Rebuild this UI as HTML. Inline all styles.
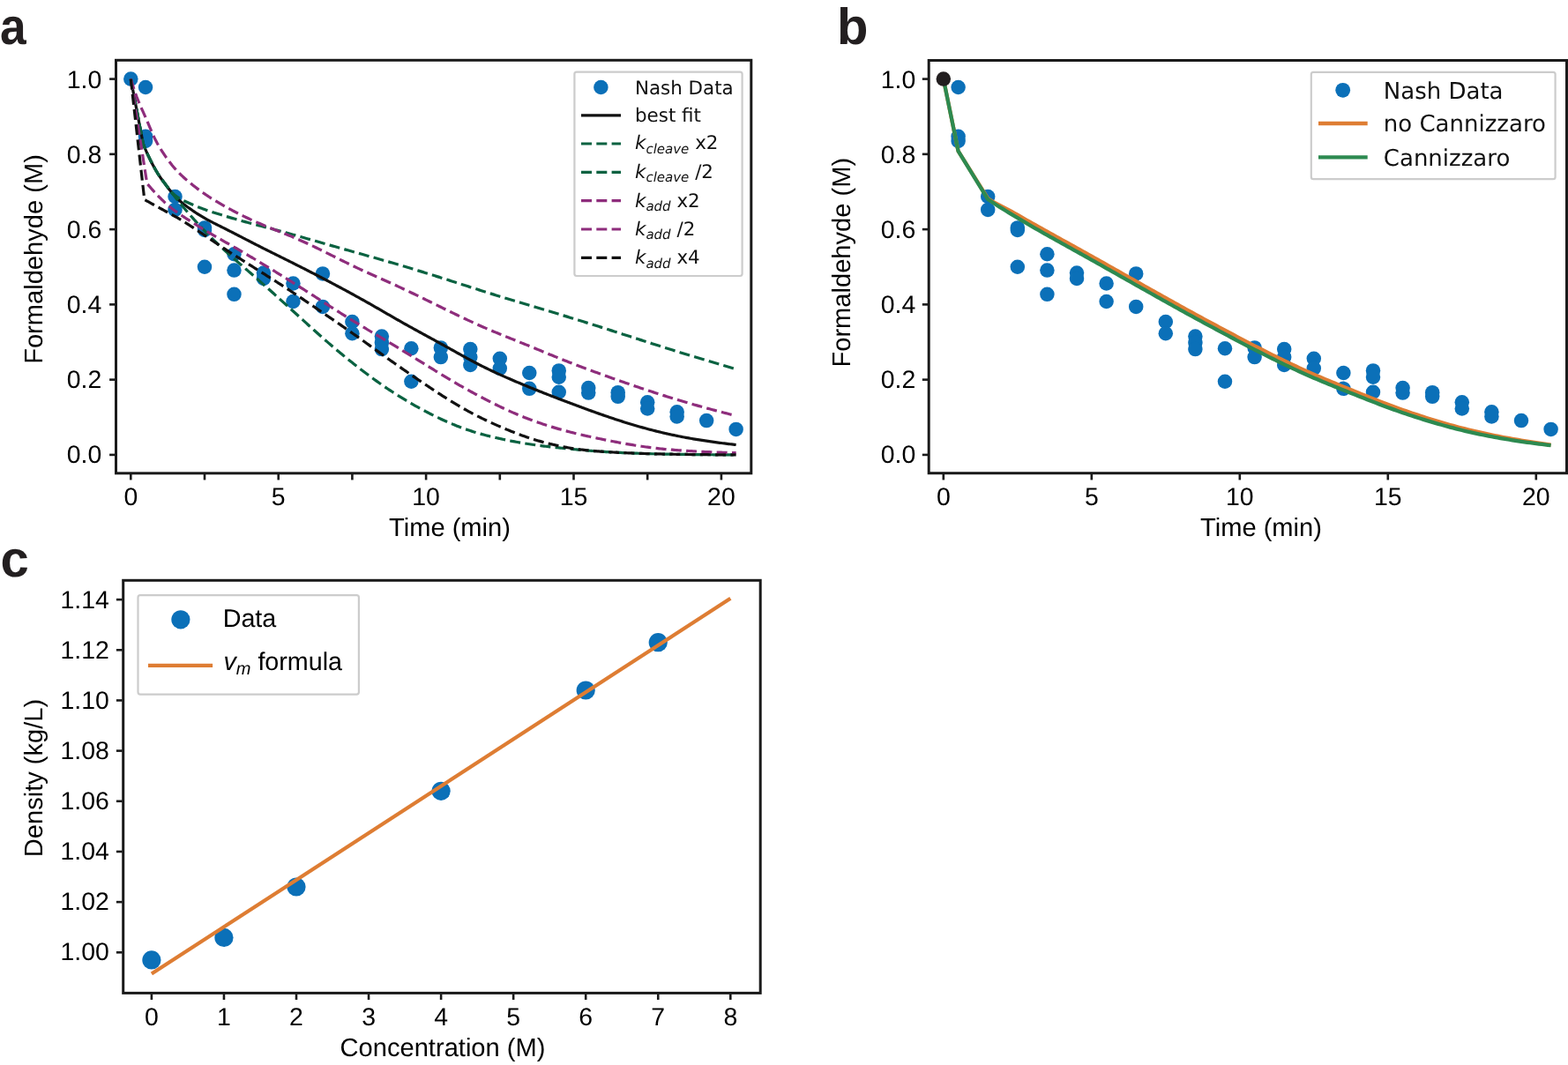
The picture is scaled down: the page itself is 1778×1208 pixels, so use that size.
<!DOCTYPE html><html><head><meta charset="utf-8"><title>Formaldehyde figure</title><style>html,body{margin:0;padding:0;background:#fff;}svg{display:block}</style></head><body>
<svg width="1778" height="1208" viewBox="0 0 1778 1208" text-rendering="geometricPrecision">
<rect width="1778" height="1208" fill="#fff"/>
<text transform="translate(0.1,49.8) scale(0.92,1)" font-size="58" font-weight="bold" font-family='"Liberation Sans", Arial, sans-serif' fill="#231f20">a</text>
<text transform="translate(949,50.2)" font-size="58" font-weight="bold" font-family='"Liberation Sans", Arial, sans-serif' fill="#231f20">b</text>
<text transform="translate(0.6,653.6)" font-size="58" font-weight="bold" font-family='"Liberation Sans", Arial, sans-serif' fill="#231f20">c</text>
<line x1="148.3" y1="538" x2="148.3" y2="544.4" stroke="#1a1a1a" stroke-width="2.6"/>
<text x="148.3" y="573.3" font-size="28.4" text-anchor="middle" font-family='"Liberation Sans", Arial, sans-serif' fill="#000">0</text>
<line x1="232" y1="538" x2="232" y2="544.4" stroke="#1a1a1a" stroke-width="2.6"/>
<line x1="315.7" y1="538" x2="315.7" y2="544.4" stroke="#1a1a1a" stroke-width="2.6"/>
<text x="315.7" y="573.3" font-size="28.4" text-anchor="middle" font-family='"Liberation Sans", Arial, sans-serif' fill="#000">5</text>
<line x1="399.4" y1="538" x2="399.4" y2="544.4" stroke="#1a1a1a" stroke-width="2.6"/>
<line x1="483.1" y1="538" x2="483.1" y2="544.4" stroke="#1a1a1a" stroke-width="2.6"/>
<text x="483.1" y="573.3" font-size="28.4" text-anchor="middle" font-family='"Liberation Sans", Arial, sans-serif' fill="#000">10</text>
<line x1="566.8" y1="538" x2="566.8" y2="544.4" stroke="#1a1a1a" stroke-width="2.6"/>
<line x1="650.5" y1="538" x2="650.5" y2="544.4" stroke="#1a1a1a" stroke-width="2.6"/>
<text x="650.5" y="573.3" font-size="28.4" text-anchor="middle" font-family='"Liberation Sans", Arial, sans-serif' fill="#000">15</text>
<line x1="734.2" y1="538" x2="734.2" y2="544.4" stroke="#1a1a1a" stroke-width="2.6"/>
<line x1="817.9" y1="538" x2="817.9" y2="544.4" stroke="#1a1a1a" stroke-width="2.6"/>
<text x="817.9" y="573.3" font-size="28.4" text-anchor="middle" font-family='"Liberation Sans", Arial, sans-serif' fill="#000">20</text>
<line x1="124.1" y1="515.9" x2="130.5" y2="515.9" stroke="#1a1a1a" stroke-width="2.6"/>
<text x="115.3" y="524.9" font-size="28.4" text-anchor="end" font-family='"Liberation Sans", Arial, sans-serif' fill="#000">0.0</text>
<line x1="124.1" y1="430.64" x2="130.5" y2="430.64" stroke="#1a1a1a" stroke-width="2.6"/>
<text x="115.3" y="439.92" font-size="28.4" text-anchor="end" font-family='"Liberation Sans", Arial, sans-serif' fill="#000">0.2</text>
<line x1="124.1" y1="345.38" x2="130.5" y2="345.38" stroke="#1a1a1a" stroke-width="2.6"/>
<text x="115.3" y="354.94" font-size="28.4" text-anchor="end" font-family='"Liberation Sans", Arial, sans-serif' fill="#000">0.4</text>
<line x1="124.1" y1="260.12" x2="130.5" y2="260.12" stroke="#1a1a1a" stroke-width="2.6"/>
<text x="115.3" y="269.96" font-size="28.4" text-anchor="end" font-family='"Liberation Sans", Arial, sans-serif' fill="#000">0.6</text>
<line x1="124.1" y1="174.86" x2="130.5" y2="174.86" stroke="#1a1a1a" stroke-width="2.6"/>
<text x="115.3" y="184.98" font-size="28.4" text-anchor="end" font-family='"Liberation Sans", Arial, sans-serif' fill="#000">0.8</text>
<line x1="124.1" y1="89.6" x2="130.5" y2="89.6" stroke="#1a1a1a" stroke-width="2.6"/>
<text x="115.3" y="100" font-size="28.4" text-anchor="end" font-family='"Liberation Sans", Arial, sans-serif' fill="#000">1.0</text>
<circle cx="148.3" cy="89.6" r="8.25" fill="#0b70b8"/>
<circle cx="165.04" cy="98.98" r="8.25" fill="#0b70b8"/>
<circle cx="165.04" cy="154.82" r="8.25" fill="#0b70b8"/>
<circle cx="165.04" cy="159.94" r="8.25" fill="#0b70b8"/>
<circle cx="198.52" cy="223.03" r="8.25" fill="#0b70b8"/>
<circle cx="198.52" cy="237.95" r="8.25" fill="#0b70b8"/>
<circle cx="232" cy="258.41" r="8.25" fill="#0b70b8"/>
<circle cx="232" cy="260.97" r="8.25" fill="#0b70b8"/>
<circle cx="232" cy="302.75" r="8.25" fill="#0b70b8"/>
<circle cx="265.48" cy="288.26" r="8.25" fill="#0b70b8"/>
<circle cx="265.48" cy="306.59" r="8.25" fill="#0b70b8"/>
<circle cx="265.48" cy="333.87" r="8.25" fill="#0b70b8"/>
<circle cx="298.96" cy="309.57" r="8.25" fill="#0b70b8"/>
<circle cx="298.96" cy="315.97" r="8.25" fill="#0b70b8"/>
<circle cx="332.44" cy="321.51" r="8.25" fill="#0b70b8"/>
<circle cx="332.44" cy="341.97" r="8.25" fill="#0b70b8"/>
<circle cx="365.92" cy="310.42" r="8.25" fill="#0b70b8"/>
<circle cx="365.92" cy="347.94" r="8.25" fill="#0b70b8"/>
<circle cx="399.4" cy="364.99" r="8.25" fill="#0b70b8"/>
<circle cx="399.4" cy="378.21" r="8.25" fill="#0b70b8"/>
<circle cx="432.88" cy="381.62" r="8.25" fill="#0b70b8"/>
<circle cx="432.88" cy="388.86" r="8.25" fill="#0b70b8"/>
<circle cx="432.88" cy="396.11" r="8.25" fill="#0b70b8"/>
<circle cx="466.36" cy="395.26" r="8.25" fill="#0b70b8"/>
<circle cx="466.36" cy="432.77" r="8.25" fill="#0b70b8"/>
<circle cx="499.84" cy="394.4" r="8.25" fill="#0b70b8"/>
<circle cx="499.84" cy="405.06" r="8.25" fill="#0b70b8"/>
<circle cx="533.32" cy="396.11" r="8.25" fill="#0b70b8"/>
<circle cx="533.32" cy="405.06" r="8.25" fill="#0b70b8"/>
<circle cx="533.32" cy="414.01" r="8.25" fill="#0b70b8"/>
<circle cx="566.8" cy="406.77" r="8.25" fill="#0b70b8"/>
<circle cx="566.8" cy="417.85" r="8.25" fill="#0b70b8"/>
<circle cx="600.28" cy="422.97" r="8.25" fill="#0b70b8"/>
<circle cx="600.28" cy="440.87" r="8.25" fill="#0b70b8"/>
<circle cx="633.76" cy="420.41" r="8.25" fill="#0b70b8"/>
<circle cx="633.76" cy="427.66" r="8.25" fill="#0b70b8"/>
<circle cx="633.76" cy="444.71" r="8.25" fill="#0b70b8"/>
<circle cx="667.24" cy="440.02" r="8.25" fill="#0b70b8"/>
<circle cx="667.24" cy="445.56" r="8.25" fill="#0b70b8"/>
<circle cx="700.72" cy="445.13" r="8.25" fill="#0b70b8"/>
<circle cx="700.72" cy="449.82" r="8.25" fill="#0b70b8"/>
<circle cx="734.2" cy="456.22" r="8.25" fill="#0b70b8"/>
<circle cx="734.2" cy="463.47" r="8.25" fill="#0b70b8"/>
<circle cx="767.68" cy="467.3" r="8.25" fill="#0b70b8"/>
<circle cx="767.68" cy="472.42" r="8.25" fill="#0b70b8"/>
<circle cx="801.16" cy="477.11" r="8.25" fill="#0b70b8"/>
<circle cx="834.64" cy="486.91" r="8.25" fill="#0b70b8"/>
<polyline points="148.3,89.6 162.36,163.35 163.37,165.79 165.04,169.75 166.71,173.56 168.39,177.2 170.06,180.65 171.74,183.96 173.41,187.17 175.08,190.26 176.76,193.23 178.43,196.06 180.11,198.73 181.78,201.23 183.45,203.58 185.13,205.81 186.8,208 188.48,210.2 190.15,212.46 191.82,214.72 193.5,216.84 195.17,218.86 196.85,220.77 198.52,222.59 200.19,224.31 201.87,225.95 203.54,227.5 205.22,228.98 206.89,230.39 208.56,231.74 210.24,233.02 211.91,234.26 213.59,235.45 215.26,236.59 216.93,237.82 218.61,239.01 220.28,240.17 221.96,241.29 223.63,242.38 225.3,243.44 226.98,244.47 228.65,245.47 230.33,246.46 232,247.42 233.67,248.35 235.35,249.28 237.02,250.17 238.7,251.07 240.37,251.94 242.04,252.8 243.72,253.66 245.39,254.5 247.07,255.35 248.74,256.18 250.41,257.02 252.09,257.86 253.76,258.69 255.44,259.53 257.11,260.38 258.78,261.22 260.46,262.07 262.13,262.92 263.81,263.77 265.48,264.63 267.15,265.49 268.83,266.35 270.5,267.22 272.18,268.09 273.85,268.95 275.52,269.82 277.2,270.69 278.87,271.56 280.55,272.43 282.22,273.29 283.89,274.16 285.57,275.02 287.24,275.88 288.92,276.73 290.59,277.59 292.26,278.44 293.94,279.29 295.61,280.13 297.29,280.98 298.96,281.82 300.63,282.66 302.31,283.49 303.98,284.33 305.66,285.17 307.33,286 309,286.84 310.68,287.67 312.35,288.5 314.03,289.34 315.7,290.17 317.37,291 319.05,291.84 320.72,292.67 322.4,293.51 324.07,294.34 325.74,295.18 327.42,296.02 329.09,296.85 330.77,297.69 332.44,298.53 334.11,299.37 335.79,300.21 337.46,301.06 339.14,301.9 340.81,302.75 342.48,303.59 344.16,304.44 345.83,305.29 347.51,306.15 349.18,307 350.85,307.85 352.53,308.71 354.2,309.57 355.88,310.43 357.55,311.29 359.22,312.15 360.9,313.02 362.57,313.89 364.25,314.76 365.92,315.63 367.59,316.51 369.27,317.38 370.94,318.26 372.62,319.14 374.29,320.02 375.96,320.91 377.64,321.8 379.31,322.69 380.99,323.58 382.66,324.47 384.33,325.37 386.01,326.26 387.68,327.16 389.36,328.06 391.03,328.97 392.7,329.88 394.38,330.78 396.05,331.69 397.73,332.61 399.4,333.52 401.07,334.44 402.75,335.36 404.42,336.28 406.1,337.21 407.77,338.14 409.44,339.07 411.12,340 412.79,340.93 414.47,341.87 416.14,342.82 417.81,343.76 419.49,344.71 421.16,345.66 422.84,346.62 424.51,347.57 426.18,348.53 427.86,349.49 429.53,350.46 431.21,351.42 432.88,352.39 434.55,353.36 436.23,354.33 437.9,355.3 439.58,356.27 441.25,357.23 442.92,358.2 444.6,359.17 446.27,360.13 447.95,361.09 449.62,362.05 451.29,363 452.97,363.96 454.64,364.91 456.32,365.85 457.99,366.8 459.66,367.74 461.34,368.67 463.01,369.61 464.69,370.54 466.36,371.46 468.03,372.39 469.71,373.31 471.38,374.23 473.06,375.15 474.73,376.07 476.4,376.99 478.08,377.9 479.75,378.82 481.43,379.73 483.1,380.65 484.77,381.56 486.45,382.47 488.12,383.39 489.8,384.31 491.47,385.22 493.14,386.14 494.82,387.06 496.49,387.98 498.17,388.91 499.84,389.83 501.51,390.76 503.19,391.68 504.86,392.61 506.54,393.54 508.21,394.48 509.88,395.41 511.56,396.34 513.23,397.27 514.91,398.21 516.58,399.14 518.25,400.07 519.93,401 521.6,401.93 523.28,402.86 524.95,403.78 526.62,404.7 528.3,405.62 529.97,406.53 531.65,407.44 533.32,408.34 534.99,409.23 536.67,410.12 538.34,411 540.02,411.88 541.69,412.75 543.36,413.61 545.04,414.46 546.71,415.31 548.39,416.15 550.06,416.98 551.73,417.8 553.41,418.61 555.08,419.42 556.76,420.22 558.43,421.02 560.1,421.8 561.78,422.58 563.45,423.36 565.13,424.12 566.8,424.88 568.47,425.64 570.15,426.39 571.82,427.13 573.5,427.87 575.17,428.61 576.84,429.34 578.52,430.06 580.19,430.78 581.87,431.5 583.54,432.22 585.21,432.93 586.89,433.64 588.56,434.34 590.24,435.04 591.91,435.74 593.58,436.44 595.26,437.13 596.93,437.82 598.61,438.51 600.28,439.19 601.95,439.87 603.63,440.55 605.3,441.23 606.98,441.9 608.65,442.57 610.32,443.24 612,443.91 613.67,444.58 615.35,445.24 617.02,445.9 618.69,446.56 620.37,447.21 622.04,447.87 623.72,448.52 625.39,449.17 627.06,449.81 628.74,450.46 630.41,451.1 632.09,451.75 633.76,452.39 635.43,453.03 637.11,453.67 638.78,454.3 640.46,454.94 642.13,455.57 643.8,456.21 645.48,456.84 647.15,457.47 648.83,458.1 650.5,458.72 652.17,459.35 653.85,459.98 655.52,460.6 657.2,461.22 658.87,461.84 660.54,462.46 662.22,463.08 663.89,463.69 665.57,464.31 667.24,464.92 668.91,465.53 670.59,466.13 672.26,466.73 673.94,467.34 675.61,467.93 677.28,468.53 678.96,469.12 680.63,469.71 682.31,470.29 683.98,470.87 685.65,471.45 687.33,472.03 689,472.6 690.68,473.16 692.35,473.73 694.02,474.29 695.7,474.85 697.37,475.4 699.05,475.95 700.72,476.5 702.39,477.04 704.07,477.58 705.74,478.11 707.42,478.65 709.09,479.17 710.76,479.69 712.44,480.21 714.11,480.72 715.79,481.23 717.46,481.74 719.13,482.23 720.81,482.73 722.48,483.22 724.16,483.7 725.83,484.18 727.5,484.65 729.18,485.12 730.85,485.58 732.53,486.03 734.2,486.49 735.87,486.93 737.55,487.37 739.22,487.81 740.9,488.24 742.57,488.66 744.24,489.08 745.92,489.49 747.59,489.9 749.27,490.31 750.94,490.71 752.61,491.1 754.29,491.48 755.96,491.87 757.64,492.24 759.31,492.61 760.98,492.98 762.66,493.34 764.33,493.69 766.01,494.04 767.68,494.39 769.35,494.72 771.03,495.05 772.7,495.38 774.38,495.7 776.05,496.02 777.72,496.33 779.4,496.63 781.07,496.93 782.75,497.23 784.42,497.52 786.09,497.81 787.77,498.09 789.44,498.36 791.12,498.64 792.79,498.91 794.46,499.17 796.14,499.43 797.81,499.69 799.49,499.94 801.16,500.2 802.83,500.44 804.51,500.69 806.18,500.93 807.86,501.16 809.53,501.4 811.2,501.62 812.88,501.85 814.55,502.07 816.23,502.29 817.9,502.51 819.57,502.73 821.25,502.94 822.92,503.14 824.6,503.35 826.27,503.55 827.94,503.75 829.62,503.95 831.29,504.14 832.97,504.33 834.64,504.52" fill="none" stroke="#111" stroke-width="3.2" stroke-linejoin="round" stroke-linecap="butt"/>
<polyline points="148.3,89.6 162.36,163.35 163.37,165.79 165.04,169.75 166.71,173.56 168.39,177.2 170.06,180.65 171.74,183.96 173.41,187.17 175.08,190.26 176.76,193.23 178.43,196.06 180.11,198.73 181.78,201.23 183.45,203.58 185.13,205.81 186.8,208 188.48,210.2 190.15,212.44 191.82,214.65 193.5,216.86 195.17,219.04 196.85,221.22 198.52,223.37 200.19,225.51 201.87,227.62 203.54,229.71 205.22,231.77 206.89,233.8 208.56,235.81 210.24,237.79 211.91,239.74 213.59,241.66 215.26,243.56 216.93,245.49 218.61,247.4 220.28,249.29 221.96,251.16 223.63,253.02 225.3,254.85 226.98,256.65 228.65,258.44 230.33,260.21 232,261.96 233.67,263.69 235.35,265.4 237.02,267.08 238.7,268.75 240.37,270.4 242.04,272.04 243.72,273.66 245.39,275.25 247.07,276.84 248.74,278.41 250.41,279.97 252.09,281.51 253.76,283.04 255.44,284.57 257.11,286.08 258.78,287.58 260.46,289.08 262.13,290.56 263.81,292.04 265.48,293.52 267.15,294.98 268.83,296.45 270.5,297.91 272.18,299.37 273.85,300.82 275.52,302.28 277.2,303.73 278.87,305.19 280.55,306.64 282.22,308.1 283.89,309.56 285.57,311.02 287.24,312.49 288.92,313.95 290.59,315.42 292.26,316.9 293.94,318.37 295.61,319.85 297.29,321.34 298.96,322.83 300.63,324.32 302.31,325.81 303.98,327.3 305.66,328.8 307.33,330.3 309,331.81 310.68,333.31 312.35,334.82 314.03,336.32 315.7,337.83 317.37,339.34 319.05,340.85 320.72,342.37 322.4,343.88 324.07,345.39 325.74,346.91 327.42,348.43 329.09,349.94 330.77,351.46 332.44,352.98 334.11,354.5 335.79,356.02 337.46,357.54 339.14,359.07 340.81,360.59 342.48,362.11 344.16,363.63 345.83,365.16 347.51,366.68 349.18,368.2 350.85,369.72 352.53,371.23 354.2,372.75 355.88,374.26 357.55,375.77 359.22,377.27 360.9,378.77 362.57,380.27 364.25,381.75 365.92,383.24 367.59,384.72 369.27,386.19 370.94,387.65 372.62,389.11 374.29,390.55 375.96,391.99 377.64,393.43 379.31,394.85 380.99,396.27 382.66,397.68 384.33,399.08 386.01,400.47 387.68,401.85 389.36,403.23 391.03,404.6 392.7,405.96 394.38,407.32 396.05,408.67 397.73,410.01 399.4,411.34 401.07,412.67 402.75,413.98 404.42,415.3 406.1,416.6 407.77,417.9 409.44,419.19 411.12,420.47 412.79,421.75 414.47,423.02 416.14,424.27 417.81,425.53 419.49,426.77 421.16,428.01 422.84,429.23 424.51,430.45 426.18,431.66 427.86,432.85 429.53,434.04 431.21,435.22 432.88,436.39 434.55,437.55 436.23,438.69 437.9,439.83 439.58,440.96 441.25,442.08 442.92,443.19 444.6,444.28 446.27,445.37 447.95,446.45 449.62,447.51 451.29,448.57 452.97,449.62 454.64,450.66 456.32,451.68 457.99,452.7 459.66,453.71 461.34,454.71 463.01,455.71 464.69,456.69 466.36,457.66 468.03,458.63 469.71,459.58 471.38,460.53 473.06,461.47 474.73,462.4 476.4,463.32 478.08,464.23 479.75,465.14 481.43,466.03 483.1,466.91 484.77,467.79 486.45,468.65 488.12,469.51 489.8,470.35 491.47,471.19 493.14,472.02 494.82,472.83 496.49,473.63 498.17,474.43 499.84,475.22 501.51,475.99 503.19,476.75 504.86,477.51 506.54,478.25 508.21,478.98 509.88,479.71 511.56,480.42 513.23,481.12 514.91,481.81 516.58,482.48 518.25,483.15 519.93,483.8 521.6,484.44 523.28,485.07 524.95,485.69 526.62,486.29 528.3,486.88 529.97,487.46 531.65,488.03 533.32,488.59 534.99,489.13 536.67,489.66 538.34,490.18 540.02,490.69 541.69,491.19 543.36,491.68 545.04,492.15 546.71,492.62 548.39,493.07 550.06,493.52 551.73,493.96 553.41,494.39 555.08,494.81 556.76,495.22 558.43,495.63 560.1,496.03 561.78,496.42 563.45,496.8 565.13,497.18 566.8,497.55 568.47,497.92 570.15,498.28 571.82,498.63 573.5,498.98 575.17,499.32 576.84,499.66 578.52,499.98 580.19,500.31 581.87,500.63 583.54,500.94 585.21,501.25 586.89,501.54 588.56,501.84 590.24,502.13 591.91,502.41 593.58,502.69 595.26,502.96 596.93,503.23 598.61,503.49 600.28,503.75 601.95,504 603.63,504.25 605.3,504.49 606.98,504.72 608.65,504.95 610.32,505.18 612,505.4 613.67,505.62 615.35,505.83 617.02,506.04 618.69,506.24 620.37,506.44 622.04,506.64 623.72,506.83 625.39,507.02 627.06,507.21 628.74,507.39 630.41,507.57 632.09,507.75 633.76,507.93 635.43,508.1 637.11,508.28 638.78,508.45 640.46,508.61 642.13,508.78 643.8,508.95 645.48,509.11 647.15,509.27 648.83,509.43 650.5,509.59 652.17,509.75 653.85,509.9 655.52,510.06 657.2,510.21 658.87,510.36 660.54,510.51 662.22,510.66 663.89,510.8 665.57,510.94 667.24,511.08 668.91,511.22 670.59,511.36 672.26,511.49 673.94,511.62 675.61,511.74 677.28,511.87 678.96,511.99 680.63,512.1 682.31,512.22 683.98,512.33 685.65,512.44 687.33,512.54 689,512.65 690.68,512.75 692.35,512.84 694.02,512.94 695.7,513.03 697.37,513.12 699.05,513.2 700.72,513.29 702.39,513.37 704.07,513.45 705.74,513.53 707.42,513.6 709.09,513.68 710.76,513.75 712.44,513.82 714.11,513.89 715.79,513.96 717.46,514.03 719.13,514.09 720.81,514.15 722.48,514.21 724.16,514.27 725.83,514.33 727.5,514.39 729.18,514.44 730.85,514.49 732.53,514.54 734.2,514.59 735.87,514.64 737.55,514.69 739.22,514.73 740.9,514.77 742.57,514.82 744.24,514.86 745.92,514.89 747.59,514.93 749.27,514.97 750.94,515 752.61,515.03 754.29,515.07 755.96,515.1 757.64,515.13 759.31,515.16 760.98,515.19 762.66,515.22 764.33,515.24 766.01,515.27 767.68,515.3 769.35,515.32 771.03,515.35 772.7,515.37 774.38,515.39 776.05,515.42 777.72,515.44 779.4,515.46 781.07,515.48 782.75,515.51 784.42,515.53 786.09,515.55 787.77,515.57 789.44,515.59 791.12,515.61 792.79,515.62 794.46,515.64 796.14,515.66 797.81,515.68 799.49,515.69 801.16,515.71 802.83,515.72 804.51,515.74 806.18,515.75 807.86,515.77 809.53,515.78 811.2,515.79 812.88,515.81 814.55,515.82 816.23,515.83 817.9,515.84 819.57,515.85 821.25,515.86 822.92,515.87 824.6,515.88 826.27,515.89 827.94,515.89 829.62,515.9 831.29,515.9 832.97,515.9 834.64,515.9" fill="none" stroke="#0a6241" stroke-width="3.2" stroke-dasharray="12 5.3" stroke-linejoin="round"/>
<polyline points="148.3,89.6 162.36,163.35 163.37,165.79 165.04,169.75 166.71,173.56 168.39,177.2 170.06,180.65 171.74,183.96 173.41,187.17 175.08,190.26 176.76,193.23 178.43,196.06 180.11,198.73 181.78,201.23 183.45,203.58 185.13,205.81 186.8,208 188.48,210.2 190.15,212.5 191.82,214.84 193.5,216.84 195.17,218.62 196.85,220.19 198.52,221.58 200.19,222.83 201.87,223.96 203.54,225.01 205.22,225.97 206.89,226.87 208.56,227.73 210.24,228.54 211.91,229.31 213.59,230.05 215.26,230.76 216.93,231.55 218.61,232.31 220.28,233.05 221.96,233.75 223.63,234.44 225.3,235.1 226.98,235.74 228.65,236.37 230.33,236.98 232,237.59 233.67,238.17 235.35,238.75 237.02,239.31 238.7,239.86 240.37,240.41 242.04,240.95 243.72,241.48 245.39,242.01 247.07,242.53 248.74,243.05 250.41,243.57 252.09,244.08 253.76,244.59 255.44,245.1 257.11,245.6 258.78,246.1 260.46,246.6 262.13,247.1 263.81,247.59 265.48,248.08 267.15,248.56 268.83,249.05 270.5,249.53 272.18,250 273.85,250.47 275.52,250.94 277.2,251.41 278.87,251.87 280.55,252.32 282.22,252.78 283.89,253.23 285.57,253.68 287.24,254.12 288.92,254.57 290.59,255.01 292.26,255.45 293.94,255.88 295.61,256.32 297.29,256.76 298.96,257.19 300.63,257.63 302.31,258.07 303.98,258.51 305.66,258.94 307.33,259.38 309,259.82 310.68,260.27 312.35,260.71 314.03,261.15 315.7,261.6 317.37,262.05 319.05,262.5 320.72,262.95 322.4,263.41 324.07,263.86 325.74,264.32 327.42,264.78 329.09,265.24 330.77,265.71 332.44,266.17 334.11,266.64 335.79,267.11 337.46,267.58 339.14,268.05 340.81,268.53 342.48,269 344.16,269.48 345.83,269.96 347.51,270.44 349.18,270.92 350.85,271.4 352.53,271.88 354.2,272.36 355.88,272.85 357.55,273.33 359.22,273.81 360.9,274.3 362.57,274.78 364.25,275.26 365.92,275.74 367.59,276.22 369.27,276.7 370.94,277.18 372.62,277.66 374.29,278.14 375.96,278.62 377.64,279.1 379.31,279.57 380.99,280.05 382.66,280.52 384.33,281 386.01,281.47 387.68,281.94 389.36,282.42 391.03,282.89 392.7,283.36 394.38,283.83 396.05,284.3 397.73,284.77 399.4,285.24 401.07,285.71 402.75,286.18 404.42,286.65 406.1,287.12 407.77,287.59 409.44,288.06 411.12,288.53 412.79,289 414.47,289.48 416.14,289.95 417.81,290.42 419.49,290.89 421.16,291.36 422.84,291.84 424.51,292.31 426.18,292.79 427.86,293.26 429.53,293.74 431.21,294.22 432.88,294.7 434.55,295.18 436.23,295.66 437.9,296.14 439.58,296.62 441.25,297.11 442.92,297.6 444.6,298.08 446.27,298.57 447.95,299.06 449.62,299.55 451.29,300.05 452.97,300.54 454.64,301.04 456.32,301.54 457.99,302.03 459.66,302.53 461.34,303.04 463.01,303.54 464.69,304.04 466.36,304.55 468.03,305.06 469.71,305.57 471.38,306.08 473.06,306.59 474.73,307.1 476.4,307.62 478.08,308.13 479.75,308.65 481.43,309.17 483.1,309.69 484.77,310.21 486.45,310.73 488.12,311.25 489.8,311.77 491.47,312.3 493.14,312.82 494.82,313.35 496.49,313.88 498.17,314.4 499.84,314.93 501.51,315.46 503.19,315.99 504.86,316.52 506.54,317.06 508.21,317.59 509.88,318.12 511.56,318.66 513.23,319.19 514.91,319.73 516.58,320.26 518.25,320.8 519.93,321.34 521.6,321.88 523.28,322.42 524.95,322.96 526.62,323.5 528.3,324.04 529.97,324.58 531.65,325.12 533.32,325.66 534.99,326.2 536.67,326.74 538.34,327.27 540.02,327.81 541.69,328.35 543.36,328.88 545.04,329.42 546.71,329.95 548.39,330.48 550.06,331.01 551.73,331.54 553.41,332.06 555.08,332.59 556.76,333.11 558.43,333.63 560.1,334.15 561.78,334.67 563.45,335.18 565.13,335.7 566.8,336.21 568.47,336.72 570.15,337.23 571.82,337.74 573.5,338.25 575.17,338.76 576.84,339.27 578.52,339.77 580.19,340.28 581.87,340.78 583.54,341.28 585.21,341.78 586.89,342.29 588.56,342.79 590.24,343.29 591.91,343.79 593.58,344.29 595.26,344.79 596.93,345.29 598.61,345.79 600.28,346.29 601.95,346.79 603.63,347.29 605.3,347.8 606.98,348.3 608.65,348.8 610.32,349.3 612,349.8 613.67,350.3 615.35,350.8 617.02,351.31 618.69,351.81 620.37,352.31 622.04,352.82 623.72,353.32 625.39,353.82 627.06,354.33 628.74,354.83 630.41,355.34 632.09,355.84 633.76,356.35 635.43,356.86 637.11,357.36 638.78,357.87 640.46,358.38 642.13,358.89 643.8,359.4 645.48,359.91 647.15,360.42 648.83,360.94 650.5,361.45 652.17,361.96 653.85,362.48 655.52,363 657.2,363.51 658.87,364.03 660.54,364.55 662.22,365.07 663.89,365.6 665.57,366.12 667.24,366.64 668.91,367.17 670.59,367.69 672.26,368.22 673.94,368.75 675.61,369.28 677.28,369.81 678.96,370.34 680.63,370.87 682.31,371.4 683.98,371.93 685.65,372.47 687.33,373 689,373.53 690.68,374.07 692.35,374.6 694.02,375.14 695.7,375.68 697.37,376.21 699.05,376.75 700.72,377.29 702.39,377.83 704.07,378.36 705.74,378.9 707.42,379.44 709.09,379.98 710.76,380.52 712.44,381.06 714.11,381.6 715.79,382.14 717.46,382.67 719.13,383.21 720.81,383.75 722.48,384.29 724.16,384.83 725.83,385.37 727.5,385.9 729.18,386.44 730.85,386.98 732.53,387.52 734.2,388.05 735.87,388.59 737.55,389.12 739.22,389.66 740.9,390.19 742.57,390.73 744.24,391.26 745.92,391.79 747.59,392.32 749.27,392.85 750.94,393.38 752.61,393.91 754.29,394.44 755.96,394.97 757.64,395.5 759.31,396.02 760.98,396.55 762.66,397.07 764.33,397.6 766.01,398.12 767.68,398.64 769.35,399.16 771.03,399.68 772.7,400.19 774.38,400.71 776.05,401.23 777.72,401.74 779.4,402.25 781.07,402.77 782.75,403.28 784.42,403.79 786.09,404.3 787.77,404.8 789.44,405.31 791.12,405.82 792.79,406.32 794.46,406.83 796.14,407.33 797.81,407.83 799.49,408.33 801.16,408.83 802.83,409.33 804.51,409.83 806.18,410.33 807.86,410.83 809.53,411.33 811.2,411.82 812.88,412.32 814.55,412.81 816.23,413.31 817.9,413.8 819.57,414.29 821.25,414.79 822.92,415.28 824.6,415.77 826.27,416.26 827.94,416.76 829.62,417.25 831.29,417.74 832.97,418.23 834.64,418.72" fill="none" stroke="#0a6241" stroke-width="3.2" stroke-dasharray="12 5.3" stroke-linejoin="round"/>
<polyline points="148.3,89.6 166.71,208.11 168.39,210.11 170.06,212.08 171.74,214.02 173.41,215.91 175.08,217.76 176.76,219.57 178.43,221.32 180.11,223.03 181.78,224.7 183.45,226.35 185.13,227.97 186.8,229.55 188.48,231.11 190.15,232.62 191.82,233.96 193.5,235.34 195.17,236.66 196.85,237.94 198.52,239.19 200.19,240.41 201.87,241.59 203.54,242.76 205.22,243.9 206.89,245.02 208.56,246.13 210.24,247.23 211.91,248.31 213.59,249.39 215.26,250.45 216.93,251.53 218.61,252.6 220.28,253.67 221.96,254.72 223.63,255.77 225.3,256.81 226.98,257.84 228.65,258.86 230.33,259.88 232,260.89 233.67,261.89 235.35,262.89 237.02,263.88 238.7,264.87 240.37,265.85 242.04,266.83 243.72,267.8 245.39,268.77 247.07,269.74 248.74,270.7 250.41,271.66 252.09,272.62 253.76,273.58 255.44,274.54 257.11,275.49 258.78,276.45 260.46,277.41 262.13,278.36 263.81,279.32 265.48,280.28 267.15,281.24 268.83,282.21 270.5,283.17 272.18,284.14 273.85,285.12 275.52,286.09 277.2,287.07 278.87,288.05 280.55,289.03 282.22,290.02 283.89,291.01 285.57,292 287.24,293 288.92,294 290.59,295 292.26,296 293.94,297.01 295.61,298.02 297.29,299.03 298.96,300.05 300.63,301.06 302.31,302.08 303.98,303.1 305.66,304.12 307.33,305.15 309,306.18 310.68,307.21 312.35,308.24 314.03,309.27 315.7,310.3 317.37,311.34 319.05,312.38 320.72,313.41 322.4,314.46 324.07,315.5 325.74,316.54 327.42,317.59 329.09,318.64 330.77,319.69 332.44,320.74 334.11,321.8 335.79,322.85 337.46,323.91 339.14,324.97 340.81,326.04 342.48,327.1 344.16,328.17 345.83,329.23 347.51,330.3 349.18,331.38 350.85,332.45 352.53,333.52 354.2,334.6 355.88,335.67 357.55,336.75 359.22,337.83 360.9,338.91 362.57,339.99 364.25,341.06 365.92,342.14 367.59,343.22 369.27,344.3 370.94,345.37 372.62,346.45 374.29,347.52 375.96,348.59 377.64,349.66 379.31,350.73 380.99,351.8 382.66,352.86 384.33,353.92 386.01,354.98 387.68,356.03 389.36,357.09 391.03,358.14 392.7,359.18 394.38,360.23 396.05,361.27 397.73,362.3 399.4,363.34 401.07,364.37 402.75,365.39 404.42,366.42 406.1,367.44 407.77,368.45 409.44,369.47 411.12,370.48 412.79,371.49 414.47,372.49 416.14,373.5 417.81,374.5 419.49,375.5 421.16,376.5 422.84,377.5 424.51,378.49 426.18,379.49 427.86,380.48 429.53,381.48 431.21,382.47 432.88,383.47 434.55,384.46 436.23,385.46 437.9,386.45 439.58,387.45 441.25,388.45 442.92,389.45 444.6,390.45 446.27,391.45 447.95,392.46 449.62,393.46 451.29,394.47 452.97,395.48 454.64,396.5 456.32,397.51 457.99,398.53 459.66,399.55 461.34,400.58 463.01,401.6 464.69,402.63 466.36,403.66 468.03,404.69 469.71,405.72 471.38,406.76 473.06,407.79 474.73,408.83 476.4,409.87 478.08,410.9 479.75,411.94 481.43,412.98 483.1,414.02 484.77,415.06 486.45,416.1 488.12,417.13 489.8,418.17 491.47,419.2 493.14,420.24 494.82,421.27 496.49,422.3 498.17,423.32 499.84,424.35 501.51,425.37 503.19,426.38 504.86,427.39 506.54,428.4 508.21,429.41 509.88,430.41 511.56,431.4 513.23,432.39 514.91,433.38 516.58,434.36 518.25,435.34 519.93,436.31 521.6,437.27 523.28,438.23 524.95,439.18 526.62,440.13 528.3,441.07 529.97,442 531.65,442.93 533.32,443.85 534.99,444.77 536.67,445.68 538.34,446.58 540.02,447.48 541.69,448.38 543.36,449.27 545.04,450.15 546.71,451.03 548.39,451.9 550.06,452.77 551.73,453.63 553.41,454.49 555.08,455.34 556.76,456.19 558.43,457.03 560.1,457.87 561.78,458.7 563.45,459.52 565.13,460.34 566.8,461.15 568.47,461.95 570.15,462.75 571.82,463.53 573.5,464.32 575.17,465.09 576.84,465.85 578.52,466.61 580.19,467.35 581.87,468.09 583.54,468.82 585.21,469.54 586.89,470.25 588.56,470.95 590.24,471.64 591.91,472.32 593.58,472.99 595.26,473.65 596.93,474.3 598.61,474.95 600.28,475.58 601.95,476.21 603.63,476.82 605.3,477.43 606.98,478.03 608.65,478.62 610.32,479.2 612,479.78 613.67,480.34 615.35,480.91 617.02,481.46 618.69,482 620.37,482.54 622.04,483.07 623.72,483.6 625.39,484.11 627.06,484.62 628.74,485.12 630.41,485.62 632.09,486.11 633.76,486.59 635.43,487.07 637.11,487.54 638.78,488 640.46,488.45 642.13,488.9 643.8,489.34 645.48,489.78 647.15,490.21 648.83,490.63 650.5,491.05 652.17,491.46 653.85,491.86 655.52,492.27 657.2,492.66 658.87,493.05 660.54,493.44 662.22,493.82 663.89,494.2 665.57,494.57 667.24,494.94 668.91,495.31 670.59,495.67 672.26,496.03 673.94,496.39 675.61,496.74 677.28,497.1 678.96,497.45 680.63,497.79 682.31,498.14 683.98,498.48 685.65,498.82 687.33,499.16 689,499.49 690.68,499.82 692.35,500.15 694.02,500.48 695.7,500.8 697.37,501.12 699.05,501.44 700.72,501.76 702.39,502.07 704.07,502.38 705.74,502.68 707.42,502.98 709.09,503.28 710.76,503.57 712.44,503.86 714.11,504.14 715.79,504.42 717.46,504.7 719.13,504.97 720.81,505.24 722.48,505.5 724.16,505.76 725.83,506.01 727.5,506.26 729.18,506.5 730.85,506.74 732.53,506.97 734.2,507.2 735.87,507.42 737.55,507.64 739.22,507.85 740.9,508.05 742.57,508.25 744.24,508.45 745.92,508.64 747.59,508.82 749.27,508.99 750.94,509.17 752.61,509.33 754.29,509.49 755.96,509.65 757.64,509.8 759.31,509.95 760.98,510.09 762.66,510.22 764.33,510.36 766.01,510.49 767.68,510.61 769.35,510.73 771.03,510.85 772.7,510.97 774.38,511.08 776.05,511.19 777.72,511.3 779.4,511.4 781.07,511.51 782.75,511.61 784.42,511.7 786.09,511.8 787.77,511.89 789.44,511.98 791.12,512.07 792.79,512.16 794.46,512.25 796.14,512.33 797.81,512.41 799.49,512.49 801.16,512.56 802.83,512.64 804.51,512.71 806.18,512.78 807.86,512.85 809.53,512.91 811.2,512.97 812.88,513.04 814.55,513.09 816.23,513.15 817.9,513.2 819.57,513.25 821.25,513.3 822.92,513.35 824.6,513.39 826.27,513.43 827.94,513.47 829.62,513.51 831.29,513.55 832.97,513.58 834.64,513.61" fill="none" stroke="#8e2d7c" stroke-width="3.2" stroke-dasharray="12 5.3" stroke-linejoin="round"/>
<polyline points="148.3,89.6 149.97,95.07 151.65,100.33 153.32,105.29 155,109.9 156.67,114.15 158.34,118.14 160.02,121.94 161.69,125.64 163.37,129.33 165.04,133.08 166.71,136.96 168.39,140.93 170.06,144.9 171.74,148.83 173.41,152.63 175.08,156.24 176.76,159.6 178.43,162.7 180.11,165.63 181.78,168.43 183.45,171.1 185.13,173.68 186.8,176.17 188.48,178.59 190.15,180.97 191.82,183.13 193.5,185.32 195.17,187.42 196.85,189.43 198.52,191.37 200.19,193.22 201.87,195 203.54,196.72 205.22,198.37 206.89,199.95 208.56,201.48 210.24,202.96 211.91,204.38 213.59,205.76 215.26,207.11 216.93,208.52 218.61,209.91 220.28,211.26 221.96,212.57 223.63,213.86 225.3,215.12 226.98,216.35 228.65,217.56 230.33,218.74 232,219.9 233.67,221.03 235.35,222.15 237.02,223.24 238.7,224.32 240.37,225.38 242.04,226.42 243.72,227.45 245.39,228.45 247.07,229.46 248.74,230.44 250.41,231.42 252.09,232.38 253.76,233.33 255.44,234.28 257.11,235.21 258.78,236.13 260.46,237.05 262.13,237.95 263.81,238.85 265.48,239.73 267.15,240.61 268.83,241.48 270.5,242.33 272.18,243.18 273.85,244.02 275.52,244.84 277.2,245.66 278.87,246.47 280.55,247.27 282.22,248.06 283.89,248.84 285.57,249.62 287.24,250.38 288.92,251.13 290.59,251.88 292.26,252.61 293.94,253.34 295.61,254.06 297.29,254.78 298.96,255.48 300.63,256.18 302.31,256.87 303.98,257.55 305.66,258.23 307.33,258.91 309,259.58 310.68,260.24 312.35,260.91 314.03,261.58 315.7,262.24 317.37,262.9 319.05,263.57 320.72,264.24 322.4,264.91 324.07,265.59 325.74,266.26 327.42,266.95 329.09,267.64 330.77,268.34 332.44,269.05 334.11,269.76 335.79,270.48 337.46,271.2 339.14,271.94 340.81,272.68 342.48,273.43 344.16,274.18 345.83,274.95 347.51,275.72 349.18,276.5 350.85,277.28 352.53,278.07 354.2,278.86 355.88,279.66 357.55,280.47 359.22,281.28 360.9,282.1 362.57,282.92 364.25,283.74 365.92,284.57 367.59,285.4 369.27,286.23 370.94,287.07 372.62,287.9 374.29,288.74 375.96,289.58 377.64,290.42 379.31,291.26 380.99,292.11 382.66,292.95 384.33,293.78 386.01,294.62 387.68,295.45 389.36,296.29 391.03,297.11 392.7,297.94 394.38,298.76 396.05,299.58 397.73,300.39 399.4,301.19 401.07,302 402.75,302.79 404.42,303.58 406.1,304.37 407.77,305.15 409.44,305.93 411.12,306.7 412.79,307.47 414.47,308.24 416.14,309 417.81,309.75 419.49,310.51 421.16,311.26 422.84,312.01 424.51,312.76 426.18,313.51 427.86,314.26 429.53,315 431.21,315.75 432.88,316.5 434.55,317.25 436.23,318 437.9,318.75 439.58,319.5 441.25,320.26 442.92,321.01 444.6,321.77 446.27,322.54 447.95,323.3 449.62,324.07 451.29,324.84 452.97,325.62 454.64,326.4 456.32,327.18 457.99,327.97 459.66,328.75 461.34,329.55 463.01,330.34 464.69,331.14 466.36,331.94 468.03,332.74 469.71,333.55 471.38,334.36 473.06,335.17 474.73,335.98 476.4,336.8 478.08,337.61 479.75,338.43 481.43,339.25 483.1,340.07 484.77,340.9 486.45,341.72 488.12,342.54 489.8,343.37 491.47,344.19 493.14,345.02 494.82,345.84 496.49,346.67 498.17,347.49 499.84,348.31 501.51,349.14 503.19,349.96 504.86,350.78 506.54,351.6 508.21,352.42 509.88,353.23 511.56,354.05 513.23,354.86 514.91,355.67 516.58,356.48 518.25,357.28 519.93,358.09 521.6,358.89 523.28,359.68 524.95,360.48 526.62,361.27 528.3,362.05 529.97,362.84 531.65,363.61 533.32,364.39 534.99,365.16 536.67,365.93 538.34,366.69 540.02,367.45 541.69,368.2 543.36,368.95 545.04,369.69 546.71,370.43 548.39,371.16 550.06,371.89 551.73,372.62 553.41,373.34 555.08,374.05 556.76,374.76 558.43,375.47 560.1,376.17 561.78,376.87 563.45,377.57 565.13,378.26 566.8,378.95 568.47,379.64 570.15,380.32 571.82,381 573.5,381.68 575.17,382.36 576.84,383.04 578.52,383.71 580.19,384.39 581.87,385.06 583.54,385.73 585.21,386.41 586.89,387.08 588.56,387.75 590.24,388.43 591.91,389.11 593.58,389.78 595.26,390.46 596.93,391.14 598.61,391.82 600.28,392.5 601.95,393.19 603.63,393.87 605.3,394.56 606.98,395.24 608.65,395.93 610.32,396.62 612,397.31 613.67,398 615.35,398.7 617.02,399.39 618.69,400.08 620.37,400.77 622.04,401.46 623.72,402.15 625.39,402.83 627.06,403.52 628.74,404.2 630.41,404.89 632.09,405.57 633.76,406.24 635.43,406.92 637.11,407.59 638.78,408.26 640.46,408.93 642.13,409.59 643.8,410.25 645.48,410.9 647.15,411.56 648.83,412.21 650.5,412.85 652.17,413.5 653.85,414.14 655.52,414.78 657.2,415.41 658.87,416.05 660.54,416.68 662.22,417.3 663.89,417.93 665.57,418.55 667.24,419.18 668.91,419.8 670.59,420.41 672.26,421.03 673.94,421.64 675.61,422.26 677.28,422.87 678.96,423.48 680.63,424.09 682.31,424.69 683.98,425.3 685.65,425.9 687.33,426.5 689,427.1 690.68,427.7 692.35,428.3 694.02,428.89 695.7,429.49 697.37,430.08 699.05,430.67 700.72,431.26 702.39,431.85 704.07,432.43 705.74,433.02 707.42,433.6 709.09,434.18 710.76,434.76 712.44,435.33 714.11,435.91 715.79,436.48 717.46,437.05 719.13,437.62 720.81,438.19 722.48,438.76 724.16,439.32 725.83,439.89 727.5,440.45 729.18,441 730.85,441.56 732.53,442.12 734.2,442.67 735.87,443.22 737.55,443.77 739.22,444.31 740.9,444.86 742.57,445.4 744.24,445.94 745.92,446.48 747.59,447.01 749.27,447.55 750.94,448.08 752.61,448.61 754.29,449.14 755.96,449.66 757.64,450.19 759.31,450.71 760.98,451.22 762.66,451.74 764.33,452.25 766.01,452.77 767.68,453.27 769.35,453.78 771.03,454.28 772.7,454.79 774.38,455.28 776.05,455.78 777.72,456.27 779.4,456.77 781.07,457.25 782.75,457.74 784.42,458.22 786.09,458.7 787.77,459.18 789.44,459.65 791.12,460.12 792.79,460.59 794.46,461.06 796.14,461.53 797.81,461.99 799.49,462.45 801.16,462.9 802.83,463.36 804.51,463.81 806.18,464.26 807.86,464.71 809.53,465.15 811.2,465.59 812.88,466.03 814.55,466.47 816.23,466.91 817.9,467.35 819.57,467.78 821.25,468.21 822.92,468.64 824.6,469.07 826.27,469.5 827.94,469.93 829.62,470.35 831.29,470.77 832.97,471.2 834.64,471.62" fill="none" stroke="#8e2d7c" stroke-width="3.2" stroke-dasharray="12 5.3" stroke-linejoin="round"/>
<polyline points="148.3,89.6 163.8,226.44 165.04,227.12 166.71,228.04 168.39,228.96 170.06,229.88 171.74,230.8 173.41,231.73 175.08,232.65 176.76,233.57 178.43,234.49 180.11,235.42 181.78,236.34 183.45,237.27 185.13,238.19 186.8,239.11 188.48,240.02 190.15,240.92 191.82,241.82 193.5,242.72 195.17,243.63 196.85,244.55 198.52,245.48 200.19,246.43 201.87,247.4 203.54,248.38 205.22,249.38 206.89,250.41 208.56,251.45 210.24,252.51 211.91,253.58 213.59,254.67 215.26,255.77 216.93,256.85 218.61,257.94 220.28,259.04 221.96,260.14 223.63,261.25 225.3,262.37 226.98,263.5 228.65,264.63 230.33,265.77 232,266.9 233.67,268.05 235.35,269.19 237.02,270.33 238.7,271.47 240.37,272.61 242.04,273.75 243.72,274.89 245.39,276.02 247.07,277.14 248.74,278.26 250.41,279.38 252.09,280.49 253.76,281.6 255.44,282.7 257.11,283.79 258.78,284.88 260.46,285.97 262.13,287.05 263.81,288.12 265.48,289.19 267.15,290.26 268.83,291.33 270.5,292.39 272.18,293.46 273.85,294.52 275.52,295.58 277.2,296.64 278.87,297.69 280.55,298.75 282.22,299.81 283.89,300.87 285.57,301.93 287.24,302.99 288.92,304.04 290.59,305.1 292.26,306.16 293.94,307.22 295.61,308.28 297.29,309.34 298.96,310.4 300.63,311.47 302.31,312.53 303.98,313.59 305.66,314.65 307.33,315.72 309,316.79 310.68,317.85 312.35,318.92 314.03,319.99 315.7,321.07 317.37,322.14 319.05,323.22 320.72,324.3 322.4,325.39 324.07,326.47 325.74,327.56 327.42,328.66 329.09,329.76 330.77,330.86 332.44,331.97 334.11,333.08 335.79,334.19 337.46,335.31 339.14,336.44 340.81,337.56 342.48,338.69 344.16,339.82 345.83,340.96 347.51,342.09 349.18,343.23 350.85,344.37 352.53,345.51 354.2,346.65 355.88,347.8 357.55,348.94 359.22,350.08 360.9,351.23 362.57,352.37 364.25,353.52 365.92,354.66 367.59,355.8 369.27,356.95 370.94,358.09 372.62,359.24 374.29,360.38 375.96,361.53 377.64,362.67 379.31,363.82 380.99,364.97 382.66,366.12 384.33,367.27 386.01,368.43 387.68,369.59 389.36,370.75 391.03,371.91 392.7,373.07 394.38,374.24 396.05,375.41 397.73,376.59 399.4,377.77 401.07,378.95 402.75,380.13 404.42,381.32 406.1,382.51 407.77,383.71 409.44,384.91 411.12,386.11 412.79,387.31 414.47,388.51 416.14,389.72 417.81,390.92 419.49,392.13 421.16,393.34 422.84,394.55 424.51,395.76 426.18,396.97 427.86,398.17 429.53,399.38 431.21,400.58 432.88,401.79 434.55,402.98 436.23,404.18 437.9,405.38 439.58,406.57 441.25,407.76 442.92,408.94 444.6,410.12 446.27,411.3 447.95,412.48 449.62,413.65 451.29,414.83 452.97,415.99 454.64,417.16 456.32,418.32 457.99,419.48 459.66,420.64 461.34,421.8 463.01,422.96 464.69,424.11 466.36,425.26 468.03,426.41 469.71,427.56 471.38,428.7 473.06,429.85 474.73,430.99 476.4,432.13 478.08,433.26 479.75,434.39 481.43,435.53 483.1,436.65 484.77,437.78 486.45,438.9 488.12,440.02 489.8,441.13 491.47,442.24 493.14,443.34 494.82,444.44 496.49,445.54 498.17,446.63 499.84,447.71 501.51,448.78 503.19,449.85 504.86,450.92 506.54,451.98 508.21,453.03 509.88,454.07 511.56,455.1 513.23,456.13 514.91,457.15 516.58,458.16 518.25,459.16 519.93,460.15 521.6,461.13 523.28,462.1 524.95,463.06 526.62,464.01 528.3,464.95 529.97,465.88 531.65,466.8 533.32,467.71 534.99,468.61 536.67,469.49 538.34,470.37 540.02,471.23 541.69,472.08 543.36,472.93 545.04,473.76 546.71,474.58 548.39,475.39 550.06,476.2 551.73,476.99 553.41,477.78 555.08,478.56 556.76,479.33 558.43,480.09 560.1,480.85 561.78,481.6 563.45,482.35 565.13,483.09 566.8,483.82 568.47,484.54 570.15,485.26 571.82,485.97 573.5,486.68 575.17,487.37 576.84,488.07 578.52,488.75 580.19,489.42 581.87,490.09 583.54,490.75 585.21,491.4 586.89,492.04 588.56,492.67 590.24,493.29 591.91,493.9 593.58,494.5 595.26,495.09 596.93,495.67 598.61,496.24 600.28,496.79 601.95,497.34 603.63,497.88 605.3,498.4 606.98,498.92 608.65,499.42 610.32,499.92 612,500.4 613.67,500.87 615.35,501.34 617.02,501.79 618.69,502.23 620.37,502.66 622.04,503.09 623.72,503.5 625.39,503.9 627.06,504.3 628.74,504.68 630.41,505.06 632.09,505.43 633.76,505.78 635.43,506.13 637.11,506.47 638.78,506.8 640.46,507.12 642.13,507.43 643.8,507.73 645.48,508.02 647.15,508.3 648.83,508.58 650.5,508.84 652.17,509.09 653.85,509.33 655.52,509.56 657.2,509.79 658.87,510 660.54,510.2 662.22,510.4 663.89,510.59 665.57,510.77 667.24,510.94 668.91,511.1 670.59,511.26 672.26,511.41 673.94,511.56 675.61,511.7 677.28,511.83 678.96,511.96 680.63,512.08 682.31,512.2 683.98,512.31 685.65,512.43 687.33,512.53 689,512.64 690.68,512.74 692.35,512.83 694.02,512.93 695.7,513.02 697.37,513.11 699.05,513.2 700.72,513.28 702.39,513.36 704.07,513.44 705.74,513.52 707.42,513.6 709.09,513.67 710.76,513.74 712.44,513.82 714.11,513.88 715.79,513.95 717.46,514.02 719.13,514.08 720.81,514.14 722.48,514.21 724.16,514.26 725.83,514.32 727.5,514.38 729.18,514.43 730.85,514.49 732.53,514.54 734.2,514.59 735.87,514.63 737.55,514.68 739.22,514.73 740.9,514.77 742.57,514.81 744.24,514.85 745.92,514.89 747.59,514.93 749.27,514.96 750.94,515 752.61,515.03 754.29,515.07 755.96,515.1 757.64,515.13 759.31,515.16 760.98,515.19 762.66,515.21 764.33,515.24 766.01,515.27 767.68,515.29 769.35,515.32 771.03,515.34 772.7,515.37 774.38,515.39 776.05,515.42 777.72,515.44 779.4,515.46 781.07,515.48 782.75,515.51 784.42,515.53 786.09,515.55 787.77,515.57 789.44,515.59 791.12,515.6 792.79,515.62 794.46,515.64 796.14,515.66 797.81,515.68 799.49,515.69 801.16,515.71 802.83,515.72 804.51,515.74 806.18,515.75 807.86,515.77 809.53,515.78 811.2,515.79 812.88,515.8 814.55,515.82 816.23,515.83 817.9,515.84 819.57,515.85 821.25,515.86 822.92,515.87 824.6,515.88 826.27,515.89 827.94,515.89 829.62,515.9 831.29,515.9 832.97,515.9 834.64,515.9" fill="none" stroke="#111" stroke-width="3.2" stroke-dasharray="12 5.3" stroke-linejoin="round"/>
<rect x="131.5" y="68.3" width="720.3" height="468.5" fill="none" stroke="#1a1a1a" stroke-width="3.0"/>
<text x="510" y="608.1" font-size="29.1" text-anchor="middle" font-family='"Liberation Sans", Arial, sans-serif' fill="#000">Time (min)</text>
<text transform="translate(48.4,294.0) rotate(-90)" x="0" y="0" font-size="29.1" text-anchor="middle" font-family='"Liberation Sans", Arial, sans-serif' fill="#000">Formaldehyde (M)</text>
<rect x="651.4" y="81.6" width="190.2" height="231.4" rx="2.5" ry="2.5" fill="#fff" fill-opacity="0.8" stroke="#cccccc" stroke-width="2.2"/>
<circle cx="681.4" cy="99" r="8.25" fill="#0b70b8"/>
<line x1="659.0" y1="130.8" x2="704.0" y2="130.8" stroke="#111" stroke-width="3.2"/>
<line x1="659.0" y1="163.0" x2="704.0" y2="163.0" stroke="#0a6241" stroke-width="3.2" stroke-dasharray="12 5.3"/>
<line x1="659.0" y1="195.3" x2="704.0" y2="195.3" stroke="#0a6241" stroke-width="3.2" stroke-dasharray="12 5.3"/>
<line x1="659.0" y1="227.7" x2="704.0" y2="227.7" stroke="#8e2d7c" stroke-width="3.2" stroke-dasharray="12 5.3"/>
<line x1="659.0" y1="260.0" x2="704.0" y2="260.0" stroke="#8e2d7c" stroke-width="3.2" stroke-dasharray="12 5.3"/>
<line x1="659.0" y1="292.3" x2="704.0" y2="292.3" stroke="#111" stroke-width="3.2" stroke-dasharray="12 5.3"/>
<text x="720.0" y="106.6" font-size="21.4" font-family='"DejaVu Sans", sans-serif' fill="#111">Nash Data</text>
<text x="720.0" y="138.4" font-size="21.4" font-family='"DejaVu Sans", sans-serif' fill="#111">best fit</text>
<text x="720.0" y="169.4" font-size="21.4" font-family='"DejaVu Sans", sans-serif' fill="#111"><tspan font-style="italic">k</tspan><tspan font-style="italic" font-size="15.0" dy="4.2">cleave</tspan><tspan dy="-4.2"> x2</tspan></text>
<text x="720.0" y="202.1" font-size="21.4" font-family='"DejaVu Sans", sans-serif' fill="#111"><tspan font-style="italic">k</tspan><tspan font-style="italic" font-size="15.0" dy="4.2">cleave</tspan><tspan dy="-4.2"> /2</tspan></text>
<text x="720.0" y="234.5" font-size="21.4" font-family='"DejaVu Sans", sans-serif' fill="#111"><tspan font-style="italic">k</tspan><tspan font-style="italic" font-size="15.0" dy="4.2">add</tspan><tspan dy="-4.2"> x2</tspan></text>
<text x="720.0" y="267.2" font-size="21.4" font-family='"DejaVu Sans", sans-serif' fill="#111"><tspan font-style="italic">k</tspan><tspan font-style="italic" font-size="15.0" dy="4.2">add</tspan><tspan dy="-4.2"> /2</tspan></text>
<text x="720.0" y="299.3" font-size="21.4" font-family='"DejaVu Sans", sans-serif' fill="#111"><tspan font-style="italic">k</tspan><tspan font-style="italic" font-size="15.0" dy="4.2">add</tspan><tspan dy="-4.2"> x4</tspan></text>
<line x1="1069.8" y1="538" x2="1069.8" y2="544.4" stroke="#1a1a1a" stroke-width="2.6"/>
<text x="1069.8" y="573.3" font-size="28.4" text-anchor="middle" font-family='"Liberation Sans", Arial, sans-serif' fill="#000">0</text>
<line x1="1237.8" y1="538" x2="1237.8" y2="544.4" stroke="#1a1a1a" stroke-width="2.6"/>
<text x="1237.8" y="573.3" font-size="28.4" text-anchor="middle" font-family='"Liberation Sans", Arial, sans-serif' fill="#000">5</text>
<line x1="1405.8" y1="538" x2="1405.8" y2="544.4" stroke="#1a1a1a" stroke-width="2.6"/>
<text x="1405.8" y="573.3" font-size="28.4" text-anchor="middle" font-family='"Liberation Sans", Arial, sans-serif' fill="#000">10</text>
<line x1="1573.8" y1="538" x2="1573.8" y2="544.4" stroke="#1a1a1a" stroke-width="2.6"/>
<text x="1573.8" y="573.3" font-size="28.4" text-anchor="middle" font-family='"Liberation Sans", Arial, sans-serif' fill="#000">15</text>
<line x1="1741.8" y1="538" x2="1741.8" y2="544.4" stroke="#1a1a1a" stroke-width="2.6"/>
<text x="1741.8" y="573.3" font-size="28.4" text-anchor="middle" font-family='"Liberation Sans", Arial, sans-serif' fill="#000">20</text>
<line x1="1045.8" y1="515.9" x2="1052.2" y2="515.9" stroke="#1a1a1a" stroke-width="2.6"/>
<text x="1038.2" y="524.9" font-size="28.4" text-anchor="end" font-family='"Liberation Sans", Arial, sans-serif' fill="#000">0.0</text>
<line x1="1045.8" y1="430.64" x2="1052.2" y2="430.64" stroke="#1a1a1a" stroke-width="2.6"/>
<text x="1038.2" y="439.92" font-size="28.4" text-anchor="end" font-family='"Liberation Sans", Arial, sans-serif' fill="#000">0.2</text>
<line x1="1045.8" y1="345.38" x2="1052.2" y2="345.38" stroke="#1a1a1a" stroke-width="2.6"/>
<text x="1038.2" y="354.94" font-size="28.4" text-anchor="end" font-family='"Liberation Sans", Arial, sans-serif' fill="#000">0.4</text>
<line x1="1045.8" y1="260.12" x2="1052.2" y2="260.12" stroke="#1a1a1a" stroke-width="2.6"/>
<text x="1038.2" y="269.96" font-size="28.4" text-anchor="end" font-family='"Liberation Sans", Arial, sans-serif' fill="#000">0.6</text>
<line x1="1045.8" y1="174.86" x2="1052.2" y2="174.86" stroke="#1a1a1a" stroke-width="2.6"/>
<text x="1038.2" y="184.98" font-size="28.4" text-anchor="end" font-family='"Liberation Sans", Arial, sans-serif' fill="#000">0.8</text>
<line x1="1045.8" y1="89.6" x2="1052.2" y2="89.6" stroke="#1a1a1a" stroke-width="2.6"/>
<text x="1038.2" y="100" font-size="28.4" text-anchor="end" font-family='"Liberation Sans", Arial, sans-serif' fill="#000">1.0</text>
<circle cx="1086.6" cy="98.98" r="8.25" fill="#0b70b8"/>
<circle cx="1086.6" cy="154.82" r="8.25" fill="#0b70b8"/>
<circle cx="1086.6" cy="159.94" r="8.25" fill="#0b70b8"/>
<circle cx="1120.2" cy="223.03" r="8.25" fill="#0b70b8"/>
<circle cx="1120.2" cy="237.95" r="8.25" fill="#0b70b8"/>
<circle cx="1153.8" cy="258.41" r="8.25" fill="#0b70b8"/>
<circle cx="1153.8" cy="260.97" r="8.25" fill="#0b70b8"/>
<circle cx="1153.8" cy="302.75" r="8.25" fill="#0b70b8"/>
<circle cx="1187.4" cy="288.26" r="8.25" fill="#0b70b8"/>
<circle cx="1187.4" cy="306.59" r="8.25" fill="#0b70b8"/>
<circle cx="1187.4" cy="333.87" r="8.25" fill="#0b70b8"/>
<circle cx="1221" cy="309.57" r="8.25" fill="#0b70b8"/>
<circle cx="1221" cy="315.97" r="8.25" fill="#0b70b8"/>
<circle cx="1254.6" cy="321.51" r="8.25" fill="#0b70b8"/>
<circle cx="1254.6" cy="341.97" r="8.25" fill="#0b70b8"/>
<circle cx="1288.2" cy="310.42" r="8.25" fill="#0b70b8"/>
<circle cx="1288.2" cy="347.94" r="8.25" fill="#0b70b8"/>
<circle cx="1321.8" cy="364.99" r="8.25" fill="#0b70b8"/>
<circle cx="1321.8" cy="378.21" r="8.25" fill="#0b70b8"/>
<circle cx="1355.4" cy="381.62" r="8.25" fill="#0b70b8"/>
<circle cx="1355.4" cy="388.86" r="8.25" fill="#0b70b8"/>
<circle cx="1355.4" cy="396.11" r="8.25" fill="#0b70b8"/>
<circle cx="1389" cy="395.26" r="8.25" fill="#0b70b8"/>
<circle cx="1389" cy="432.77" r="8.25" fill="#0b70b8"/>
<circle cx="1422.6" cy="394.4" r="8.25" fill="#0b70b8"/>
<circle cx="1422.6" cy="405.06" r="8.25" fill="#0b70b8"/>
<circle cx="1456.2" cy="396.11" r="8.25" fill="#0b70b8"/>
<circle cx="1456.2" cy="405.06" r="8.25" fill="#0b70b8"/>
<circle cx="1456.2" cy="414.01" r="8.25" fill="#0b70b8"/>
<circle cx="1489.8" cy="406.77" r="8.25" fill="#0b70b8"/>
<circle cx="1489.8" cy="417.85" r="8.25" fill="#0b70b8"/>
<circle cx="1523.4" cy="422.97" r="8.25" fill="#0b70b8"/>
<circle cx="1523.4" cy="440.87" r="8.25" fill="#0b70b8"/>
<circle cx="1557" cy="420.41" r="8.25" fill="#0b70b8"/>
<circle cx="1557" cy="427.66" r="8.25" fill="#0b70b8"/>
<circle cx="1557" cy="444.71" r="8.25" fill="#0b70b8"/>
<circle cx="1590.6" cy="440.02" r="8.25" fill="#0b70b8"/>
<circle cx="1590.6" cy="445.56" r="8.25" fill="#0b70b8"/>
<circle cx="1624.2" cy="445.13" r="8.25" fill="#0b70b8"/>
<circle cx="1624.2" cy="449.82" r="8.25" fill="#0b70b8"/>
<circle cx="1657.8" cy="456.22" r="8.25" fill="#0b70b8"/>
<circle cx="1657.8" cy="463.47" r="8.25" fill="#0b70b8"/>
<circle cx="1691.4" cy="467.3" r="8.25" fill="#0b70b8"/>
<circle cx="1691.4" cy="472.42" r="8.25" fill="#0b70b8"/>
<circle cx="1725" cy="477.11" r="8.25" fill="#0b70b8"/>
<circle cx="1758.6" cy="486.91" r="8.25" fill="#0b70b8"/>
<polyline points="1069.8,89.6 1086.6,171.45 1120.2,225.22 1123.56,227.32 1126.92,229.28 1130.28,231.15 1133.64,232.94 1137,234.71 1140.36,236.46 1143.72,238.22 1147.08,240 1150.44,241.84 1153.8,243.74 1157.16,245.67 1160.52,247.6 1163.88,249.52 1167.24,251.43 1170.6,253.34 1173.96,255.23 1177.32,257.12 1180.68,259 1184.04,260.87 1187.4,262.74 1190.76,264.6 1194.12,266.46 1197.48,268.31 1200.84,270.16 1204.2,272.02 1207.56,273.87 1210.92,275.73 1214.28,277.58 1217.64,279.44 1221,281.29 1224.36,283.16 1227.72,285.02 1231.08,286.9 1234.44,288.77 1237.8,290.66 1241.16,292.54 1244.52,294.43 1247.88,296.33 1251.24,298.22 1254.6,300.12 1257.96,302.02 1261.32,303.91 1264.68,305.81 1268.04,307.71 1271.4,309.61 1274.76,311.5 1278.12,313.4 1281.48,315.29 1284.84,317.19 1288.2,319.08 1291.56,320.97 1294.92,322.87 1298.28,324.76 1301.64,326.65 1305,328.54 1308.36,330.43 1311.72,332.31 1315.08,334.2 1318.44,336.08 1321.8,337.96 1325.16,339.84 1328.52,341.71 1331.88,343.58 1335.24,345.45 1338.6,347.31 1341.96,349.16 1345.32,351.01 1348.68,352.86 1352.04,354.7 1355.4,356.54 1358.76,358.37 1362.12,360.2 1365.48,362.02 1368.84,363.84 1372.2,365.65 1375.56,367.46 1378.92,369.26 1382.28,371.06 1385.64,372.86 1389,374.66 1392.36,376.44 1395.72,378.23 1399.08,380.01 1402.44,381.78 1405.8,383.55 1409.16,385.31 1412.52,387.07 1415.88,388.82 1419.24,390.57 1422.6,392.3 1425.96,394.03 1429.32,395.75 1432.68,397.47 1436.04,399.17 1439.4,400.87 1442.76,402.55 1446.12,404.22 1449.48,405.88 1452.84,407.53 1456.2,409.16 1459.56,410.78 1462.92,412.39 1466.28,413.98 1469.64,415.55 1473,417.11 1476.36,418.66 1479.72,420.18 1483.08,421.69 1486.44,423.19 1489.8,424.66 1493.16,426.12 1496.52,427.57 1499.88,429 1503.24,430.42 1506.6,431.83 1509.96,433.23 1513.32,434.61 1516.68,435.99 1520.04,437.37 1523.4,438.74 1526.76,440.1 1530.12,441.46 1533.48,442.82 1536.84,444.18 1540.2,445.53 1543.56,446.89 1546.92,448.23 1550.28,449.58 1553.64,450.92 1557,452.24 1560.36,453.57 1563.72,454.88 1567.08,456.18 1570.44,457.47 1573.8,458.74 1577.16,460.01 1580.52,461.25 1583.88,462.48 1587.24,463.7 1590.6,464.9 1593.96,466.09 1597.32,467.25 1600.68,468.41 1604.04,469.55 1607.4,470.66 1610.76,471.77 1614.12,472.86 1617.48,473.93 1620.84,474.99 1624.2,476.04 1627.56,477.06 1630.92,478.08 1634.28,479.07 1637.64,480.05 1641,481.02 1644.36,481.97 1647.72,482.9 1651.08,483.82 1654.44,484.71 1657.8,485.59 1661.16,486.45 1664.52,487.3 1667.88,488.12 1671.24,488.92 1674.6,489.71 1677.96,490.47 1681.32,491.22 1684.68,491.95 1688.04,492.66 1691.4,493.36 1694.76,494.04 1698.12,494.71 1701.48,495.36 1704.84,495.99 1708.2,496.61 1711.56,497.22 1714.92,497.81 1718.28,498.39 1721.64,498.96 1725,499.52 1728.36,500.07 1731.72,500.6 1735.08,501.13 1738.44,501.64 1741.8,502.15 1745.16,502.64 1748.52,503.13 1751.88,503.61 1755.24,504.08 1758.6,504.54" fill="none" stroke="#de7d33" stroke-width="4.3" stroke-linejoin="round" stroke-linecap="butt"/>
<polyline points="1069.8,89.6 1086.6,171.45 1120.2,226.07 1123.56,228.34 1126.92,230.54 1130.28,232.69 1133.64,234.81 1137,236.9 1140.36,238.98 1143.72,241.05 1147.08,243.09 1150.44,245.12 1153.8,247.15 1157.16,249.16 1160.52,251.15 1163.88,253.14 1167.24,255.11 1170.6,257.07 1173.96,259.02 1177.32,260.96 1180.68,262.88 1184.04,264.79 1187.4,266.69 1190.76,268.58 1194.12,270.46 1197.48,272.33 1200.84,274.2 1204.2,276.07 1207.56,277.93 1210.92,279.79 1214.28,281.65 1217.64,283.52 1221,285.38 1224.36,287.25 1227.72,289.13 1231.08,291 1234.44,292.89 1237.8,294.78 1241.16,296.67 1244.52,298.57 1247.88,300.46 1251.24,302.37 1254.6,304.27 1257.96,306.17 1261.32,308.07 1264.68,309.98 1268.04,311.88 1271.4,313.78 1274.76,315.68 1278.12,317.58 1281.48,319.48 1284.84,321.38 1288.2,323.28 1291.56,325.18 1294.92,327.07 1298.28,328.97 1301.64,330.86 1305,332.75 1308.36,334.65 1311.72,336.54 1315.08,338.42 1318.44,340.31 1321.8,342.19 1325.16,344.07 1328.52,345.95 1331.88,347.82 1335.24,349.69 1338.6,351.55 1341.96,353.41 1345.32,355.26 1348.68,357.11 1352.04,358.95 1355.4,360.79 1358.76,362.62 1362.12,364.45 1365.48,366.27 1368.84,368.09 1372.2,369.91 1375.56,371.72 1378.92,373.52 1382.28,375.33 1385.64,377.12 1389,378.92 1392.36,380.71 1395.72,382.49 1399.08,384.27 1402.44,386.04 1405.8,387.81 1409.16,389.57 1412.52,391.33 1415.88,393.08 1419.24,394.82 1422.6,396.55 1425.96,398.28 1429.32,399.99 1432.68,401.7 1436.04,403.4 1439.4,405.08 1442.76,406.76 1446.12,408.42 1449.48,410.06 1452.84,411.7 1456.2,413.32 1459.56,414.93 1462.92,416.52 1466.28,418.09 1469.64,419.65 1473,421.2 1476.36,422.72 1479.72,424.23 1483.08,425.72 1486.44,427.2 1489.8,428.66 1493.16,430.1 1496.52,431.52 1499.88,432.94 1503.24,434.34 1506.6,435.72 1509.96,437.1 1513.32,438.46 1516.68,439.82 1520.04,441.17 1523.4,442.52 1526.76,443.86 1530.12,445.19 1533.48,446.53 1536.84,447.86 1540.2,449.19 1543.56,450.52 1546.92,451.84 1550.28,453.16 1553.64,454.48 1557,455.78 1560.36,457.08 1563.72,458.37 1567.08,459.64 1570.44,460.91 1573.8,462.15 1577.16,463.39 1580.52,464.61 1583.88,465.81 1587.24,467 1590.6,468.16 1593.96,469.32 1597.32,470.45 1600.68,471.56 1604.04,472.66 1607.4,473.74 1610.76,474.81 1614.12,475.85 1617.48,476.89 1620.84,477.9 1624.2,478.9 1627.56,479.88 1630.92,480.85 1634.28,481.8 1637.64,482.73 1641,483.65 1644.36,484.55 1647.72,485.43 1651.08,486.3 1654.44,487.15 1657.8,487.98 1661.16,488.79 1664.52,489.58 1667.88,490.35 1671.24,491.1 1674.6,491.84 1677.96,492.55 1681.32,493.25 1684.68,493.93 1688.04,494.59 1691.4,495.23 1694.76,495.86 1698.12,496.47 1701.48,497.06 1704.84,497.64 1708.2,498.2 1711.56,498.75 1714.92,499.28 1718.28,499.8 1721.64,500.31 1725,500.81 1728.36,501.29 1731.72,501.76 1735.08,502.23 1738.44,502.68 1741.8,503.12 1745.16,503.55 1748.52,503.97 1751.88,504.38 1755.24,504.79 1758.6,505.18" fill="none" stroke="#2d8a50" stroke-width="4.3" stroke-linejoin="round" stroke-linecap="butt"/>
<circle cx="1069.8" cy="89.6" r="8.25" fill="#231f20"/>
<rect x="1053.2" y="68.5" width="723.3" height="468.2" fill="none" stroke="#1a1a1a" stroke-width="3.0"/>
<text x="1430" y="608.1" font-size="29.1" text-anchor="middle" font-family='"Liberation Sans", Arial, sans-serif' fill="#000">Time (min)</text>
<text transform="translate(964.0,297.7) rotate(-90)" x="0" y="0" font-size="29.1" text-anchor="middle" font-family='"Liberation Sans", Arial, sans-serif' fill="#000">Formaldehyde (M)</text>
<rect x="1486.8" y="81.8" width="276.8" height="121.4" rx="2.5" ry="2.5" fill="#fff" fill-opacity="0.8" stroke="#cccccc" stroke-width="2.2"/>
<circle cx="1522.7" cy="102.3" r="8.4" fill="#0b70b8"/>
<line x1="1495" y1="140" x2="1550.7" y2="140" stroke="#de7d33" stroke-width="4.4"/>
<line x1="1495" y1="178.4" x2="1550.7" y2="178.4" stroke="#2d8a50" stroke-width="4.4"/>
<text x="1568.8" y="111.6" font-size="26" font-family='"DejaVu Sans", sans-serif' fill="#111">Nash Data</text>
<text x="1568.8" y="149.3" font-size="26" font-family='"DejaVu Sans", sans-serif' fill="#111">no Cannizzaro</text>
<text x="1568.8" y="187.7" font-size="26" font-family='"DejaVu Sans", sans-serif' fill="#111">Cannizzaro</text>
<line x1="171.9" y1="1127.5" x2="171.9" y2="1134" stroke="#1a1a1a" stroke-width="2.6"/>
<text x="171.9" y="1163.1" font-size="28.4" text-anchor="middle" font-family='"Liberation Sans", Arial, sans-serif' fill="#000">0</text>
<line x1="253.95" y1="1127.5" x2="253.95" y2="1134" stroke="#1a1a1a" stroke-width="2.6"/>
<text x="253.95" y="1163.1" font-size="28.4" text-anchor="middle" font-family='"Liberation Sans", Arial, sans-serif' fill="#000">1</text>
<line x1="336" y1="1127.5" x2="336" y2="1134" stroke="#1a1a1a" stroke-width="2.6"/>
<text x="336" y="1163.1" font-size="28.4" text-anchor="middle" font-family='"Liberation Sans", Arial, sans-serif' fill="#000">2</text>
<line x1="418.05" y1="1127.5" x2="418.05" y2="1134" stroke="#1a1a1a" stroke-width="2.6"/>
<text x="418.05" y="1163.1" font-size="28.4" text-anchor="middle" font-family='"Liberation Sans", Arial, sans-serif' fill="#000">3</text>
<line x1="500.1" y1="1127.5" x2="500.1" y2="1134" stroke="#1a1a1a" stroke-width="2.6"/>
<text x="500.1" y="1163.1" font-size="28.4" text-anchor="middle" font-family='"Liberation Sans", Arial, sans-serif' fill="#000">4</text>
<line x1="582.15" y1="1127.5" x2="582.15" y2="1134" stroke="#1a1a1a" stroke-width="2.6"/>
<text x="582.15" y="1163.1" font-size="28.4" text-anchor="middle" font-family='"Liberation Sans", Arial, sans-serif' fill="#000">5</text>
<line x1="664.2" y1="1127.5" x2="664.2" y2="1134" stroke="#1a1a1a" stroke-width="2.6"/>
<text x="664.2" y="1163.1" font-size="28.4" text-anchor="middle" font-family='"Liberation Sans", Arial, sans-serif' fill="#000">6</text>
<line x1="746.25" y1="1127.5" x2="746.25" y2="1134" stroke="#1a1a1a" stroke-width="2.6"/>
<text x="746.25" y="1163.1" font-size="28.4" text-anchor="middle" font-family='"Liberation Sans", Arial, sans-serif' fill="#000">7</text>
<line x1="828.3" y1="1127.5" x2="828.3" y2="1134" stroke="#1a1a1a" stroke-width="2.6"/>
<text x="828.3" y="1163.1" font-size="28.4" text-anchor="middle" font-family='"Liberation Sans", Arial, sans-serif' fill="#000">8</text>
<line x1="131.9" y1="1080.3" x2="138.7" y2="1080.3" stroke="#1a1a1a" stroke-width="2.6"/>
<text x="123.8" y="1088.75" font-size="28.4" text-anchor="end" font-family='"Liberation Sans", Arial, sans-serif' fill="#000">1.00</text>
<line x1="131.9" y1="1023.13" x2="138.7" y2="1023.13" stroke="#1a1a1a" stroke-width="2.6"/>
<text x="123.8" y="1031.74" font-size="28.4" text-anchor="end" font-family='"Liberation Sans", Arial, sans-serif' fill="#000">1.02</text>
<line x1="131.9" y1="965.96" x2="138.7" y2="965.96" stroke="#1a1a1a" stroke-width="2.6"/>
<text x="123.8" y="974.74" font-size="28.4" text-anchor="end" font-family='"Liberation Sans", Arial, sans-serif' fill="#000">1.04</text>
<line x1="131.9" y1="908.78" x2="138.7" y2="908.78" stroke="#1a1a1a" stroke-width="2.6"/>
<text x="123.8" y="917.73" font-size="28.4" text-anchor="end" font-family='"Liberation Sans", Arial, sans-serif' fill="#000">1.06</text>
<line x1="131.9" y1="851.61" x2="138.7" y2="851.61" stroke="#1a1a1a" stroke-width="2.6"/>
<text x="123.8" y="860.72" font-size="28.4" text-anchor="end" font-family='"Liberation Sans", Arial, sans-serif' fill="#000">1.08</text>
<line x1="131.9" y1="794.44" x2="138.7" y2="794.44" stroke="#1a1a1a" stroke-width="2.6"/>
<text x="123.8" y="803.71" font-size="28.4" text-anchor="end" font-family='"Liberation Sans", Arial, sans-serif' fill="#000">1.10</text>
<line x1="131.9" y1="737.27" x2="138.7" y2="737.27" stroke="#1a1a1a" stroke-width="2.6"/>
<text x="123.8" y="746.71" font-size="28.4" text-anchor="end" font-family='"Liberation Sans", Arial, sans-serif' fill="#000">1.12</text>
<line x1="131.9" y1="680.1" x2="138.7" y2="680.1" stroke="#1a1a1a" stroke-width="2.6"/>
<text x="123.8" y="689.7" font-size="28.4" text-anchor="end" font-family='"Liberation Sans", Arial, sans-serif' fill="#000">1.14</text>
<circle cx="171.9" cy="1088.88" r="10.6" fill="#0b70b8"/>
<circle cx="253.95" cy="1063.43" r="10.6" fill="#0b70b8"/>
<circle cx="336" cy="1005.98" r="10.6" fill="#0b70b8"/>
<circle cx="500.1" cy="897.35" r="10.6" fill="#0b70b8"/>
<circle cx="664.2" cy="783.01" r="10.6" fill="#0b70b8"/>
<circle cx="746.25" cy="728.69" r="10.6" fill="#0b70b8"/>
<polyline points="171.9,1104.6 828.3,678.67" fill="none" stroke="#de7d33" stroke-width="4.2" stroke-linejoin="round" stroke-linecap="butt"/>
<rect x="139.7" y="658.3" width="722.5" height="468.1" fill="none" stroke="#1a1a1a" stroke-width="3.0"/>
<text x="502" y="1198.3" font-size="29.1" text-anchor="middle" font-family='"Liberation Sans", Arial, sans-serif' fill="#000">Concentration (M)</text>
<text transform="translate(48.2,882.5) rotate(-90)" x="0" y="0" font-size="29.1" text-anchor="middle" font-family='"Liberation Sans", Arial, sans-serif' fill="#000">Density (kg/L)</text>
<rect x="156.5" y="675.2" width="250.4" height="112.4" rx="2.5" ry="2.5" fill="#fff" fill-opacity="0.8" stroke="#cccccc" stroke-width="2.2"/>
<circle cx="204.9" cy="702.8" r="10.6" fill="#0b70b8"/>
<line x1="168" y1="754.8" x2="241.1" y2="754.8" stroke="#de7d33" stroke-width="4.2"/>
<text x="252.7" y="711" font-size="28.7" font-family='"Liberation Sans", Arial, sans-serif' fill="#000">Data</text>
<text x="253.4" y="759.5" font-size="28.7" font-family='"Liberation Sans", Arial, sans-serif' fill="#000"><tspan font-style="italic">v</tspan><tspan font-style="italic" font-size="20" dy="5">m</tspan><tspan dy="-5"> formula</tspan></text>
</svg></body></html>
